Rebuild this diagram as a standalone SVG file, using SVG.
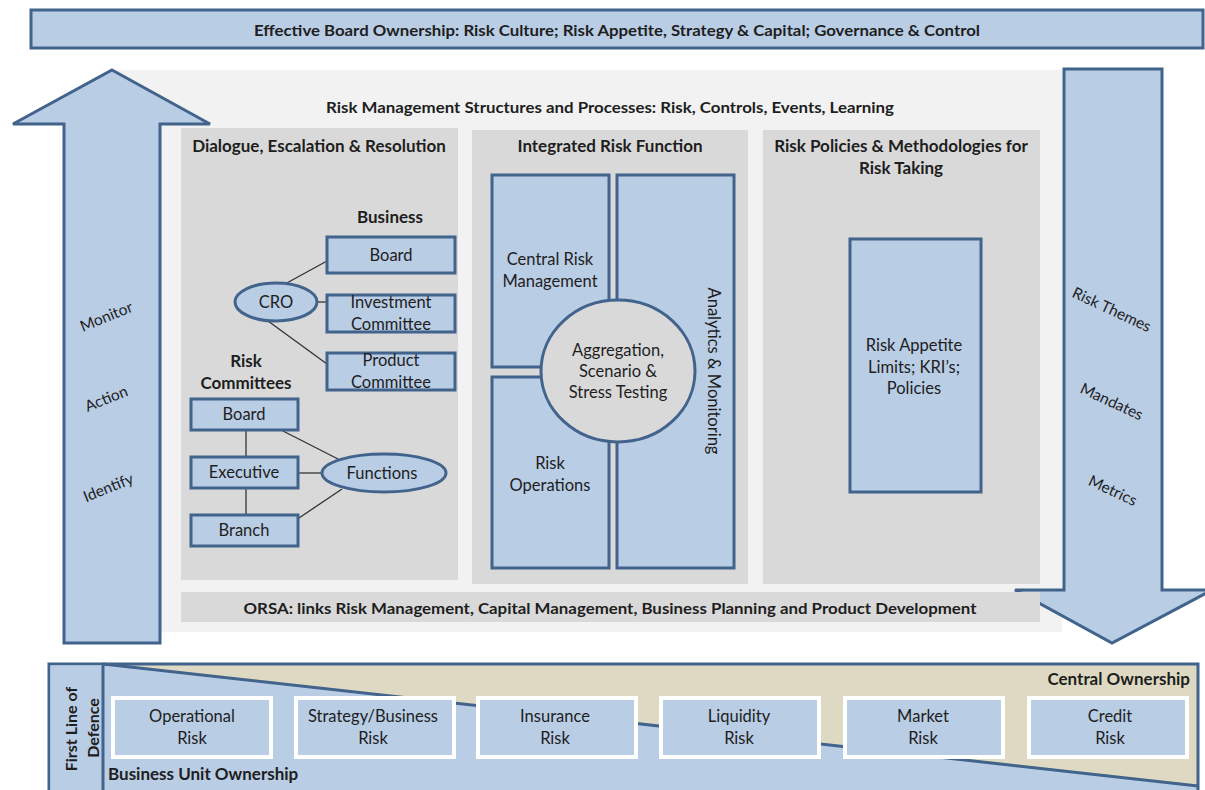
<svg xmlns="http://www.w3.org/2000/svg" width="1205" height="790" viewBox="0 0 1205 790">
<style>
text{font-family:Lato,"Liberation Sans",sans-serif;fill:#1e1e1e;font-size:16.5px;text-anchor:middle;dominant-baseline:central}
.b{font-weight:bold;font-size:17px}
.arr{font-size:15.5px}
.blue{fill:#b9cde5;stroke:#41638c;stroke-width:3}
.panel{fill:#d9d9d9}
.ln{stroke:#333;stroke-width:1.3;fill:none}
.risk{fill:#b9cde5;stroke:#fff;stroke-width:4}
</style>
<rect width="1205" height="790" fill="#fff"/>
<g id="banner">
<rect class="blue" x="31" y="10" width="1172" height="38"/>
<text class="b" x="617" y="29" style="font-size:16px" textLength="726" lengthAdjust="spacingAndGlyphs">Effective Board Ownership: Risk Culture; Risk Appetite, Strategy &amp; Capital; Governance &amp; Control</text>
</g>
<g id="mainPanel">
<rect x="110" y="70" width="952" height="562" fill="#f2f2f2"/>
<text class="b" x="610" y="106" style="font-size:16px" textLength="568" lengthAdjust="spacingAndGlyphs">Risk Management Structures and Processes: Risk, Controls, Events, Learning</text>
</g>
<g id="upArrow">
<polygon class="blue" points="112,70 210,124 160,124 160,643 64,643 64,124 13,124"/>
<text class="arr" transform="translate(106,316) rotate(-22)">Monitor</text>
<text class="arr" transform="translate(106,398) rotate(-22)">Action</text>
<text class="arr" transform="translate(108,487) rotate(-22)">Identify</text>
</g>
<g id="downArrow">
<polygon class="blue" points="1064,69 1162,69 1162,590 1212,590 1112,643 1015,590 1064,590"/>
<text class="arr" transform="translate(1112,309) rotate(25)">Risk Themes</text>
<text class="arr" transform="translate(1112,401) rotate(25)">Mandates</text>
<text class="arr" transform="translate(1113,490) rotate(25)">Metrics</text>
</g>
<g id="dialoguePanel">
<rect class="panel" x="181" y="128" width="277" height="452"/>
<text class="b" x="319" y="145">Dialogue, Escalation &amp; Resolution</text>
<text class="b" x="390" y="216">Business</text>
<text class="b" x="246" y="360">Risk</text>
<text class="b" x="246" y="382">Committees</text>
</g>
<g id="connectors">
<line class="ln" x1="285" y1="284" x2="327" y2="261"/>
<line class="ln" x1="317" y1="302" x2="327" y2="302"/>
<line class="ln" x1="268" y1="321" x2="327" y2="364"/>
<line class="ln" x1="246" y1="430" x2="246" y2="457"/>
<line class="ln" x1="246" y1="488" x2="246" y2="515"/>
<line class="ln" x1="283" y1="431" x2="338" y2="459"/>
<line class="ln" x1="298" y1="473" x2="322" y2="473"/>
<line class="ln" x1="299" y1="518" x2="342" y2="489"/>
</g>
<g id="bizBoard"><rect class="blue" x="327" y="237" width="128" height="36"/><text x="391" y="255">Board</text></g>
<g id="investment"><rect class="blue" x="327" y="295" width="128" height="37"/><text x="391" y="302">Investment</text><text x="391" y="324">Committee</text></g>
<g id="product"><rect class="blue" x="327" y="353" width="128" height="37"/><text x="391" y="360">Product</text><text x="391" y="382">Committee</text></g>
<g id="cro"><ellipse class="blue" cx="276" cy="302" rx="41" ry="19"/><text x="276" y="302">CRO</text></g>
<g id="rcBoard"><rect class="blue" x="191" y="399" width="107" height="31"/><text x="244" y="414">Board</text></g>
<g id="executive"><rect class="blue" x="191" y="457" width="107" height="31"/><text x="244" y="472">Executive</text></g>
<g id="branch"><rect class="blue" x="191" y="515" width="107" height="31"/><text x="244" y="530">Branch</text></g>
<g id="functions"><ellipse class="blue" cx="384" cy="473" rx="62" ry="19"/><text x="382" y="473">Functions</text></g>
<g id="integratedPanel">
<rect class="panel" x="472" y="130" width="276" height="454"/>
<text class="b" x="610" y="145">Integrated Risk Function</text>
</g>
<g id="centralRisk"><rect class="blue" x="492" y="175" width="117" height="192"/><text x="550" y="259">Central Risk</text><text x="550" y="281">Management</text></g>
<g id="riskOps"><rect class="blue" x="492" y="377" width="117" height="191"/><text x="550" y="463">Risk</text><text x="550" y="485">Operations</text></g>
<g id="analytics"><rect class="blue" x="617" y="175" width="117" height="393"/><text transform="translate(714,371) rotate(90)">Analytics &amp; Monitoring</text></g>
<g id="aggregation"><ellipse cx="618" cy="371" rx="77" ry="71" fill="#d9d9d9" stroke="#41638c" stroke-width="3"/><text x="618" y="350">Aggregation,</text><text x="618" y="371">Scenario &amp;</text><text x="618" y="392">Stress Testing</text></g>
<g id="policiesPanel">
<rect class="panel" x="763" y="130" width="277" height="454"/>
<text class="b" x="901" y="145">Risk Policies &amp; Methodologies for</text>
<text class="b" x="901" y="167">Risk Taking</text>
</g>
<g id="appetite"><rect class="blue" x="850" y="239" width="131" height="253"/><text x="914" y="345">Risk Appetite</text><text x="914" y="367">Limits; KRI’s;</text><text x="914" y="388">Policies</text></g>
<g id="orsa">
<rect class="panel" x="181" y="592" width="859" height="30"/>
<text class="b" x="610" y="607" style="font-size:16px" textLength="733" lengthAdjust="spacingAndGlyphs">ORSA: links Risk Management, Capital Management, Business Planning and Product Development</text>
</g>
<g id="firstLine">
<rect x="103" y="664" width="1095" height="130" fill="#b9cde5"/>
<polygon points="103,664 1198,664 1198,786" fill="#ddd9c3"/>
<line x1="103" y1="664" x2="1198" y2="786" stroke="#41638c" stroke-width="3"/>
<rect x="49" y="664" width="1149" height="130" fill="none" stroke="#41638c" stroke-width="3"/>
<rect x="50.5" y="665.5" width="52.5" height="128" fill="#b9cde5"/>
<line x1="103" y1="664" x2="103" y2="790" stroke="#41638c" stroke-width="3"/>
<text class="b" style="font-size:16px" transform="translate(70,729) rotate(-90)">First Line of</text>
<text class="b" style="font-size:16px" transform="translate(92,728) rotate(-90)">Defence</text>
<text class="b" x="1190" y="678" style="text-anchor:end">Central Ownership</text>
<text class="b" x="108" y="773" style="text-anchor:start">Business Unit Ownership</text>
</g>
<g id="opRisk"><rect class="risk" x="113" y="698" width="158" height="59"/><text x="192" y="716">Operational</text><text x="192" y="738">Risk</text></g>
<g id="stratRisk"><rect class="risk" x="296" y="698" width="158" height="59"/><text x="373" y="716">Strategy/Business</text><text x="373" y="738">Risk</text></g>
<g id="insRisk"><rect class="risk" x="478" y="698" width="158" height="59"/><text x="555" y="716">Insurance</text><text x="555" y="738">Risk</text></g>
<g id="liqRisk"><rect class="risk" x="661" y="698" width="158" height="59"/><text x="739" y="716">Liquidity</text><text x="739" y="738">Risk</text></g>
<g id="mktRisk"><rect class="risk" x="845" y="698" width="158" height="59"/><text x="923" y="716">Market</text><text x="923" y="738">Risk</text></g>
<g id="creditRisk"><rect class="risk" x="1029" y="698" width="158" height="59"/><text x="1110" y="716">Credit</text><text x="1110" y="738">Risk</text></g>
</svg>
